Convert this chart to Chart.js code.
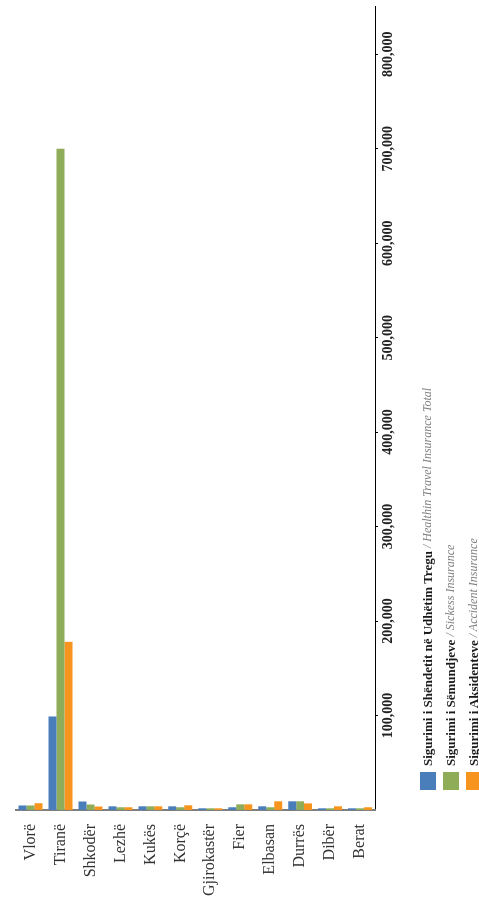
<!DOCTYPE html>
<html>
<head>
<meta charset="utf-8">
<script src="https://cdn.jsdelivr.net/npm/chart.js@4.4.1/dist/chart.umd.min.js"></script>
<style>
  html, body { margin: 0; padding: 0; background: #fff; overflow: hidden; }
  #wrap {
    position: absolute; left: 0; top: 0;
    width: 899px; height: 479px;
    transform-origin: 0 0;
    transform: translate(0, 899px) rotate(-90deg);
  }
  #c { position: absolute; left: 0; top: 0; }
  #legend { position: absolute; left: 109px; top: 416px; font-family: "Liberation Serif", serif; }
  .row { display: flex; align-items: center; height: 23px; white-space: nowrap; }
  .box { width: 18px; height: 16px; margin-right: 6px; }
  .al { font-weight: bold; font-size: 13px; color: #1a1a1a; }
  .en { font-style: italic; font-size: 12px; color: #808080; }
</style>
</head>
<body>
<div id="wrap">
  <canvas id="c" width="899" height="479"></canvas>
  <div id="legend"></div>
</div>
<script>
// qarqet
const categories = ['Vlorë', 'Tiranë', 'Shkodër', 'Lezhë', 'Kukës', 'Korçë', 'Gjirokastër', 'Fier', 'Elbasan', 'Durrës', 'Dibër', 'Berat'];

// vlerat sipas serive
const healthTravel = [4800, 99000, 9000, 3900, 3900, 3900, 1800, 2900, 3900, 9200, 1800, 1800];
const sickness     = [4800, 700000, 5800, 2900, 3900, 2900, 1800, 6000, 2900, 9200, 1800, 1800];
const accident     = [7200, 178000, 3700, 2900, 3900, 5000, 1800, 6000, 9200, 7000, 3900, 2900];

const seriesAl = ['Sigurimi i Shëndetit në Udhëtim Tregu', 'Sigurimi i Sëmundjeve', 'Sigurimi i Aksidenteve'];
const seriesEn = ['Healthin Travel Insurance Total', 'Sickess Insurance', 'Accident Insurance'];
const colors = ['#4a7ebb', '#8fac58', '#f7941e'];

const valueTicks = [100000, 200000, 300000, 400000, 500000, 600000, 700000, 800000];

// legjenda si html (tekst me dy stile)
const legend = document.getElementById('legend');
seriesAl.forEach((name, i) => {
    const row = document.createElement('div');
    row.className = 'row';
    row.innerHTML = '<span class="box" style="background:' + colors[i] + '"></span>' +
        '<span class="al">' + name + '</span>' +
        '<span class="en">&nbsp;/ ' + seriesEn[i] + '</span>';
    legend.appendChild(row);
});

const ctx = document.getElementById('c').getContext('2d');
new Chart(ctx, {
    type: 'bar',
    data: {
        labels: categories,
        datasets: [
            { label: seriesAl[0], data: healthTravel, backgroundColor: colors[0] },
            { label: seriesAl[1], data: sickness, backgroundColor: colors[1] },
            { label: seriesAl[2], data: accident, backgroundColor: colors[2] },
        ],
    },
    options: {
        indexAxis: 'y',
        responsive: false,
        animation: false,
        categoryPercentage: 0.8,
        barPercentage: 1.0,
        layout: { padding: { top: 13, right: 7, left: 0, bottom: 0 } },
        plugins: {
            legend: { display: false },
            tooltip: { enabled: false },
        },
        scales: {
            x: {
                min: 0,
                max: 850000,
                afterFit: s => { s.height = 104; },
                afterBuildTicks: s => { s.ticks = valueTicks.map(v => ({ value: v })); },
                grid: { drawOnChartArea: false, drawTicks: true, tickLength: 3, color: '#000' },
                border: { color: '#000', width: 1 },
                ticks: {
                    padding: 2,
                    color: '#222',
                    font: { family: 'Liberation Serif', size: 14, weight: 'bold' },
                    callback: v => v.toLocaleString('en-US'),
                },
            },
            y: {
                afterFit: s => { s.width = 89; },
                grid: { display: false },
                border: { color: '#7f7f7f', width: 2 },
                ticks: {
                    padding: 6,
                    color: '#333',
                    font: { family: 'Liberation Serif', size: 16 },
                },
            },
        },
    },
});
</script>
</body>
</html>
